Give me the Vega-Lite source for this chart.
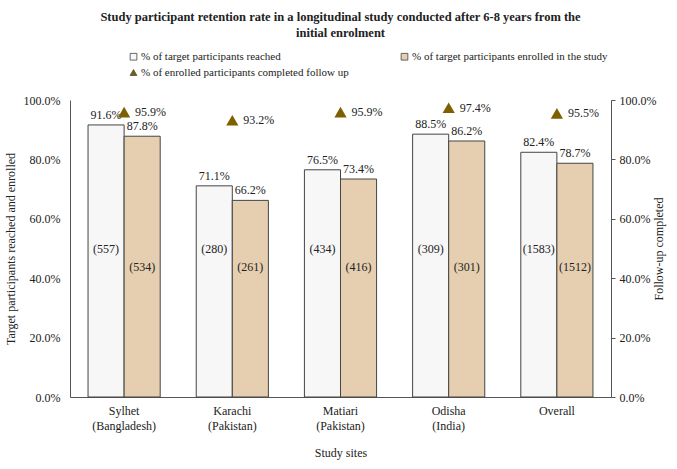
{
  "$schema": "https://vega.github.io/schema/vega-lite/v6.json",
  "width": 541,
  "height": 297,
  "autosize": {"type": "none"},
  "padding": {"left": 70, "top": 100, "right": 67, "bottom": 72},
  "background": "white",
  "config": {
    "font": "Liberation Serif",
    "view": {"stroke": null},
    "axis": {"labelFont": "Liberation Serif", "titleFont": "Liberation Serif", "labelColor": "#222", "titleColor": "#222", "labelFontSize": 12, "titleFontSize": 12, "titleFontWeight": "normal", "grid": false, "domainColor": "#555", "labelOverlap": false},
    "legend": {"labelFont": "Liberation Serif", "labelFontSize": 11, "labelColor": "#222"}
  },
  "title": {
    "text": ["Study participant retention rate in a longitudinal  study conducted after 6-8 years from the", "initial  enrolment"],
    "font": "Liberation Serif",
    "fontSize": 12.5,
    "fontWeight": "bold",
    "color": "#222",
    "anchor": "middle",
    "offset": 12,
    "lineHeight": 16
  },
  "data": {
    "values": [
      {"site": "Sylhet (Bangladesh)", "series": "% of target participants reached", "value": 0.916, "n": 557},
      {"site": "Sylhet (Bangladesh)", "series": "% of target participants enrolled in the study", "value": 0.878, "n": 534},
      {"site": "Sylhet (Bangladesh)", "series": "% of enrolled participants completed follow up", "value": 0.959},
      {"site": "Karachi (Pakistan)", "series": "% of target participants reached", "value": 0.711, "n": 280},
      {"site": "Karachi (Pakistan)", "series": "% of target participants enrolled in the study", "value": 0.662, "n": 261},
      {"site": "Karachi (Pakistan)", "series": "% of enrolled participants completed follow up", "value": 0.932},
      {"site": "Matiari (Pakistan)", "series": "% of target participants reached", "value": 0.765, "n": 434},
      {"site": "Matiari (Pakistan)", "series": "% of target participants enrolled in the study", "value": 0.734, "n": 416},
      {"site": "Matiari (Pakistan)", "series": "% of enrolled participants completed follow up", "value": 0.959},
      {"site": "Odisha (India)", "series": "% of target participants reached", "value": 0.885, "n": 309},
      {"site": "Odisha (India)", "series": "% of target participants enrolled in the study", "value": 0.862, "n": 301},
      {"site": "Odisha (India)", "series": "% of enrolled participants completed follow up", "value": 0.974},
      {"site": "Overall", "series": "% of target participants reached", "value": 0.824, "n": 1583},
      {"site": "Overall", "series": "% of target participants enrolled in the study", "value": 0.787, "n": 1512},
      {"site": "Overall", "series": "% of enrolled participants completed follow up", "value": 0.955}
    ]
  },
  "encoding": {
    "x": {
      "field": "site", "type": "nominal", "sort": null,
      "scale": {"paddingInner": 0.333, "paddingOuter": 0.1667},
      "axis": {"title": "Study sites", "labelAngle": 0, "ticks": false, "labelPadding": 8, "titlePadding": 16, "labelLineHeight": 15,
        "labelExpr": "indexof(datum.label, ' (') > 0 ? [split(datum.label, ' (')[0], '(' + split(datum.label, ' (')[1]] : datum.label"}
    }
  },
  "layer": [
    {
      "transform": [{"filter": "datum.series != '% of enrolled participants completed follow up'"}],
      "layer": [
        {
          "mark": {"type": "bar", "stroke": "#444", "strokeWidth": 1},
          "encoding": {
            "xOffset": {"field": "series", "type": "nominal", "sort": ["% of target participants reached", "% of target participants enrolled in the study"], "scale": {"paddingInner": 0}},
            "y": {"field": "value", "type": "quantitative", "scale": {"domain": [0, 1]},
              "axis": {"format": ".1%", "values": [0, 0.2, 0.4, 0.6, 0.8, 1], "ticks": false, "labelPadding": 10, "title": "Target participants  reached and enrolled", "titlePadding": 6}},
            "fill": {
              "field": "series", "type": "nominal",
              "scale": {"domain": ["% of target participants reached", "% of target participants enrolled in the study", "% of enrolled participants completed follow up"], "range": ["#f7f7f7", "#e6cfb0", "#7f6000"]},
              "legend": {"title": null, "orient": "none", "direction": "horizontal", "legendX": 58, "legendY": -49, "columns": 2, "columnPadding": 50, "rowPadding": 4, "symbolSize": 45, "symbolStrokeColor": "#444", "symbolStrokeWidth": 0.8, "labelOffset": 2, "labelLimit": 400, "labelFont": "Liberation Serif", "labelFontSize": 11}
            }
          }
        },
        {
          "mark": {"type": "text", "baseline": "bottom", "dy": -3, "fontSize": 12, "color": "#222"},
          "encoding": {
            "xOffset": {"field": "series", "type": "nominal", "sort": ["% of target participants reached", "% of target participants enrolled in the study"]},
            "y": {"field": "value", "type": "quantitative"},
            "text": {"field": "value", "type": "quantitative", "format": ".1%"}
          }
        },
        {
          "transform": [{"filter": "datum.series == '% of target participants reached'"}, {"calculate": "'(' + datum.n + ')'", "as": "nlabel"}],
          "mark": {"type": "text", "fontSize": 12, "color": "#222"},
          "encoding": {
            "xOffset": {"datum": "% of target participants reached"},
            "y": {"datum": 0.5},
            "text": {"field": "nlabel", "type": "nominal"}
          }
        },
        {
          "transform": [{"filter": "datum.series == '% of target participants enrolled in the study'"}, {"calculate": "'(' + datum.n + ')'", "as": "nlabel"}],
          "mark": {"type": "text", "fontSize": 12, "color": "#222"},
          "encoding": {
            "xOffset": {"datum": "% of target participants enrolled in the study"},
            "y": {"datum": 0.437},
            "text": {"field": "nlabel", "type": "nominal"}
          }
        }
      ]
    },
    {
      "transform": [{"filter": "datum.series == '% of enrolled participants completed follow up'"}],
      "layer": [
        {
          "mark": {"type": "point", "filled": true, "size": 150, "opacity": 1},
          "encoding": {
            "y": {"field": "value", "type": "quantitative", "scale": {"domain": [0, 1]},
              "axis": {"orient": "right", "format": ".1%", "values": [0, 0.2, 0.4, 0.6, 0.8, 1], "tickSize": 4, "tickColor": "#555", "labelPadding": 4, "title": "Follow-up  completed", "titleAngle": 270, "titlePadding": 10}},
            "fill": {"field": "series", "type": "nominal"},
            "shape": {"field": "series", "type": "nominal",
              "scale": {"domain": ["% of target participants reached", "% of target participants enrolled in the study", "% of enrolled participants completed follow up"], "range": ["square", "square", "triangle-up"]}}
          }
        },
        {
          "mark": {"type": "text", "align": "left", "dx": 11, "fontSize": 12, "color": "#222"},
          "encoding": {
            "y": {"field": "value", "type": "quantitative"},
            "text": {"field": "value", "type": "quantitative", "format": ".1%"}
          }
        }
      ]
    }
  ],
  "resolve": {"scale": {"y": "independent"}}
}
